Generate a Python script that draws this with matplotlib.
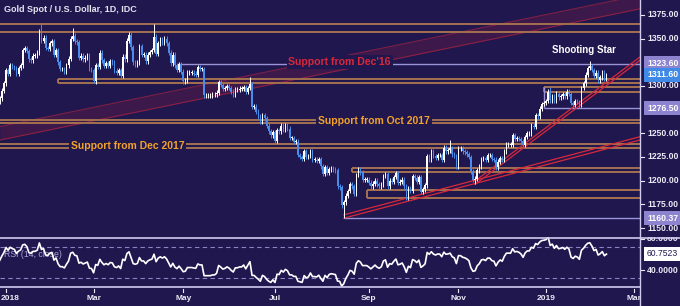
import numpy as np
import pandas as pd
import matplotlib
matplotlib.use('Agg')
import matplotlib.pyplot as plt
from matplotlib.lines import Line2D

plt.rcParams['font.family'] = ['Liberation Sans', 'DejaVu Sans']

# daily closes (Dec 2017 only feeds the RSI warm-up)
dec_2017 = [1280, 1276, 1265, 1263, 1248, 1248, 1247, 1242, 1257, 1254, 1256, 1261, 1262, 1265, 1265, 1275,
            1283, 1287, 1295, 1303]
jan_2018 = [1317, 1313, 1322, 1320, 1319, 1313, 1319, 1322, 1338, 1340, 1337, 1328, 1327, 1332, 1332, 1335,
            1358, 1348, 1351, 1340, 1339, 1345]
feb_2018 = [1347, 1333, 1338, 1325, 1318, 1318, 1315, 1322, 1329, 1350, 1353, 1347, 1346, 1330, 1332, 1328,
            1330, 1332, 1318, 1317]
mar_2018 = [1305, 1322, 1320, 1335, 1327, 1321, 1324, 1321, 1326, 1325, 1316, 1314, 1317, 1311, 1331, 1328,
            1348, 1354, 1341, 1325, 1323, 1325]
apr_2018 = [1342, 1333, 1333, 1326, 1333, 1336, 1338, 1352, 1334, 1345, 1349, 1346, 1350, 1345, 1335, 1324,
            1333, 1322, 1317, 1323, 1315]
may_2018 = [1305, 1306, 1314, 1314, 1314, 1313, 1312, 1320, 1318, 1318, 1290, 1290, 1290, 1290, 1291, 1291,
            1293, 1304, 1301, 1297, 1298, 1300, 1298]
jun_2018 = [1294, 1291, 1296, 1296, 1297, 1297, 1299, 1294, 1298, 1302, 1278, 1278, 1273, 1268, 1262, 1269,
            1266, 1258, 1252, 1248, 1251]
jul_2018 = [1242, 1253, 1252, 1258, 1254, 1258, 1255, 1245, 1245, 1241, 1241, 1227, 1225, 1223, 1231, 1225,
            1226, 1231, 1222, 1222, 1221, 1223]
aug_2018 = [1215, 1207, 1214, 1208, 1212, 1213, 1212, 1211, 1194, 1193, 1174, 1177, 1184, 1189, 1196, 1194,
            1186, 1206, 1212, 1209, 1201, 1201, 1201]
sep_2018 = [1198, 1194, 1197, 1200, 1196, 1194, 1196, 1205, 1207, 1194, 1200, 1199, 1204, 1208, 1198, 1199,
            1201, 1194, 1182, 1192]
oct_2018 = [1189, 1205, 1203, 1199, 1204, 1188, 1191, 1195, 1226, 1222, 1231, 1226, 1224, 1227, 1227, 1222,
            1235, 1231, 1232, 1234, 1228, 1226, 1215]
nov_2018 = [1234, 1234, 1231, 1230, 1228, 1225, 1210, 1201, 1202, 1211, 1215, 1223, 1224, 1222, 1227, 1227,
            1223, 1222, 1214, 1220, 1224, 1222]
dec_2018 = [1231, 1238, 1238, 1238, 1248, 1244, 1245, 1244, 1242, 1238, 1246, 1250, 1250, 1258, 1257, 1269,
            1268, 1276, 1281, 1282]
jan_2019 = [1284, 1294, 1285, 1289, 1284, 1292, 1288, 1289, 1291, 1289, 1294, 1292, 1282, 1280, 1284, 1283,
            1280, 1298, 1303, 1312, 1319, 1321]
feb_2019 = [1317, 1311, 1314, 1306, 1309, 1314, 1308, 1311.6]

# wick extremes that stand out on the chart
wick_highs = {'2018-01-25': 1366.1, '2018-02-15': 1361.0, '2018-04-11': 1365.4, '2018-06-14': 1309.0,
              '2018-10-26': 1243.4, '2019-01-04': 1298.4, '2019-01-31': 1326.3}
wick_lows = {'2018-03-01': 1303.0, '2018-08-16': 1160.37, '2018-11-13': 1196.2, '2019-01-24': 1276.5}

holidays = ['2017-12-25', '2018-01-01', '2018-12-25', '2019-01-01']

# horizontal zones (top, bottom, start date)
zone_tops = [1365.5, 1307.3, 1298.9, 1264.1, 1238.7, 1213.4, 1190.1]
zone_bottoms = [1356.5, 1303.1, 1293.6, 1260.4, 1234.5, 1209.2, 1181.7]
zone_starts = [None, '2018-02-06', '2018-12-31', None, None, '2018-08-22', '2018-08-31']

level_prices = [1323.60, 1276.50, 1160.37]
level_starts = ['2018-04-26', '2018-12-31', '2018-08-16']

# January 2019 range box (left edge from zone top down to the 1276.50 line)
range_box = ('2018-12-31', 1298.9, 1276.5)

# trend channels: two anchor points (date, price)
channel_wide = [('2017-12-27', 1242.8), ('2019-02-12', 1374.2)]
channel_wide_width = 14.3
trend_aug = [('2018-08-16', 1160.4), ('2019-02-12', 1233.6)]
trend_nov = [('2018-11-13', 1196.2), ('2019-02-12', 1300.5)]

price_ticks = [1375, 1350, 1300, 1250, 1225, 1200, 1175, 1150]
price_marks = [('1323.60', 1323.60, '#8c84cf'), ('1311.60', 1311.60, '#3f8ae6'),
               ('1276.50', 1276.50, '#8c84cf'), ('1160.37', 1160.37, '#8c84cf')]
rsi_ticks = [80, 40]
rsi_last = 60.7523
month_starts = ['2018-01', '2018-03', '2018-05', '2018-07', '2018-09', '2018-11', '2019-01', '2019-03']
month_labels = ['2018', 'Mar', 'May', 'Jul', 'Sep', 'Nov', '2019', 'Mar']

bg = '#20174f'
zone_c = '#a3704f'
lav = '#9a93d8'
red = '#d8283a'
blue = '#4a8ceb'
txt = '#ecebf5'

closes = np.array(dec_2017 + jan_2018 + feb_2018 + mar_2018 + apr_2018 + may_2018 + jun_2018 + jul_2018
                  + aug_2018 + sep_2018 + oct_2018 + nov_2018 + dec_2018 + jan_2019 + feb_2019, dtype=float)
dates = pd.bdate_range('2017-12-01', '2019-02-12')
dates = dates[~dates.isin(pd.to_datetime(holidays))]
assert len(dates) == len(closes), (len(dates), len(closes))

all_days = pd.bdate_range('2017-12-01', '2019-03-29')
all_days = all_days[~all_days.isin(pd.to_datetime(holidays))]
base = all_days.get_loc(pd.Timestamp('2018-01-02'))


def pos(d):
    return all_days.get_loc(pd.Timestamp(d)) - base


x = np.arange(len(closes)) - base
opens = np.r_[closes[0], closes[:-1]]
highs = np.maximum(opens, closes) + 2.5
lows = np.minimum(opens, closes) - 2.5
for d, v in wick_highs.items():
    highs[pos(d) + base] = v
for d, v in wick_lows.items():
    lows[pos(d) + base] = v

# RSI(14), Wilder smoothing
delta = pd.Series(closes).diff()
up = delta.clip(lower=0).ewm(alpha=1 / 14, adjust=False).mean()
dn = (-delta.clip(upper=0)).ewm(alpha=1 / 14, adjust=False).mean()
rsi = (100 - 100 / (1 + up / dn)).values

px_per_bar = 2.085
xl = -6 / px_per_bar
xe = (640 - 6) / px_per_bar
xr = (680 - 6) / px_per_bar

fig = plt.figure(figsize=(6.8, 3.06), dpi=100, facecolor=bg)
ax = fig.add_axes([0, 1 - 237 / 306, 1, 237 / 306])
ax2 = fig.add_axes([0, 1 - 287 / 306, 1, 50 / 306])
for a in (ax, ax2):
    a.set_facecolor(bg)
    a.set_xlim(xl, xr)
    a.set_xticks([])
    a.set_yticks([])
    for s in a.spines.values():
        s.set_visible(False)
ax.set_ylim(1140.5, 1390.8)
ax2.set_ylim(18.5, 82.4)

# wide red channel
(d0, p0), (d1, p1) = channel_wide
k = (p1 - p0) / (pos(d1) - pos(d0))
cx = np.array([xl, xe])
lo = p0 + k * (cx - pos(d0))
ax.fill_between(cx, lo, lo + channel_wide_width, color=red, alpha=0.16, lw=0, zorder=1)
ax.plot(cx, lo, color=red, alpha=0.5, lw=0.8, zorder=1)
ax.plot(cx, lo + channel_wide_width, color=red, alpha=0.5, lw=0.8, zorder=1)

# zones
for top, bot, st in zip(zone_tops, zone_bottoms, zone_starts):
    s = xl if st is None else pos(st)
    ax.hlines([top, bot], s, xe, color=zone_c, lw=1.4, zorder=2)
    if st is not None:
        ax.vlines(s, bot, top, color=zone_c, lw=1.4, zorder=2)
ax.vlines(pos(range_box[0]), range_box[2], range_box[1], color=lav, lw=1.0, zorder=2)

for p, st in zip(level_prices, level_starts):
    ax.hlines(p, pos(st), xe, color=lav, lw=1.0, zorder=2)

# rising trend lines (double)
for (d0, p0), (d1, p1) in (trend_aug, trend_nov):
    k = (p1 - p0) / (pos(d1) - pos(d0))
    tx = np.array([pos(d0), xe])
    ty = p0 + k * (tx - pos(d0))
    ax.plot(tx, ty, color=red, lw=0.9, zorder=3)
    ax.plot(tx, ty + 3.5, color=red, lw=0.9, zorder=3)

# candles
cols = np.where(closes >= opens, '#ffffff', blue)
n0 = base - 3
ax.vlines(x[n0:], lows[n0:], highs[n0:], color=cols[n0:], lw=0.7, zorder=4)
body = np.where(np.abs(closes - opens) < 0.6, 0.6, closes - opens)
ax.bar(x[n0:], body[n0:], bottom=opens[n0:], width=0.72, color=cols[n0:], lw=0, zorder=5)

# labels on chart
box = dict(facecolor=bg, edgecolor='none', pad=1.2)
ax.text(160, 1325.3, "Support from Dec'16", color=red, fontsize=7.6, fontweight='bold',
        ha='center', va='center', bbox=box, zorder=3.5)
ax.text(176.5, 1263.0, 'Support from Oct 2017', color='#f2a22a', fontsize=7.5, fontweight='bold',
        ha='center', va='center', bbox=box, zorder=3.5)
ax.text(58.5, 1236.6, 'Support from Dec 2017', color='#f2a22a', fontsize=7.5, fontweight='bold',
        ha='center', va='center', bbox=box, zorder=3.5)
ax.text(277, 1337.5, 'Shooting Star', color='white', fontsize=7.0, fontweight='bold',
        ha='center', va='center', zorder=6)

# right price scale
lx = (647 - 6) / px_per_bar
for p in price_ticks:
    ax.text(lx, p, '%.2f' % p, color=txt, fontsize=6.2, fontweight='bold', ha='left', va='center')
    ax.plot([xe, xe + 2], [p, p], color=txt, lw=0.8)
for lab, p, c in price_marks:
    ax.text(lx, p, lab, color='white', fontsize=6.2, fontweight='bold', ha='left', va='center',
            bbox=dict(facecolor=c, edgecolor='none', boxstyle='square,pad=0.32'), zorder=7)

# RSI panel
ax2.text(4 / px_per_bar + xl, 60.5, 'RSI (14, close)', color='#a9a3d6', fontsize=6.3, va='center', zorder=1)
ax2.hlines([70, 30], xl, xe, color='#8a84c2', lw=0.8, linestyles=(0, (4, 3)), zorder=1)
ax2.plot(x[base - 3:], rsi[base - 3:], color='white', lw=1.2, zorder=3)
for r in rsi_ticks:
    ax2.text(lx, r, '%.4f' % r, color=txt, fontsize=6.2, fontweight='bold', ha='left', va='center',
             clip_on=True)
    ax2.plot([xe, xe + 2], [r, r], color=txt, lw=0.8)
ax2.text(lx, rsi_last, '%.4f' % rsi_last, color=bg, fontsize=6.2, ha='left', va='center',
         bbox=dict(facecolor='white', edgecolor='none', boxstyle='square,pad=0.32'), zorder=7)

# month labels
for m, lab in zip(month_starts, month_labels):
    d = all_days[all_days >= pd.Timestamp(m + '-01')][0]
    xp = pos(d)
    ha = 'center'
    tx_ = xp
    if xp - 8 / px_per_bar < xl:
        ha = 'left'
        tx_ = xl + 0.5 / px_per_bar
    ax2.text(tx_, -0.22, lab, transform=ax2.get_xaxis_transform(), color=txt, fontsize=6,
             fontweight='bold', ha=ha, va='center', clip_on=False)
    ax2.plot([xp, xp], [-0.03, -0.09], transform=ax2.get_xaxis_transform(), color=txt, lw=0.8,
             clip_on=False)

# frame lines
fig.add_artist(Line2D([640 / 680, 640 / 680], [0, 1], color='#cfcbee', lw=1.0))
fig.add_artist(Line2D([0, 1], [1 - 237.5 / 306, 1 - 237.5 / 306], color='#cfcbee', lw=1.2))
fig.add_artist(Line2D([0, 640 / 680], [1 - 287 / 306, 1 - 287 / 306], color='#cfcbee', lw=1.2))

fig.text(4 / 680, 1 - 10 / 306, 'Gold Spot / U.S. Dollar, 1D, IDC', color='#e4e3ef', fontsize=6.5,
         fontweight='bold', va='center')

fig.savefig('out.png', dpi=100, facecolor=bg)
